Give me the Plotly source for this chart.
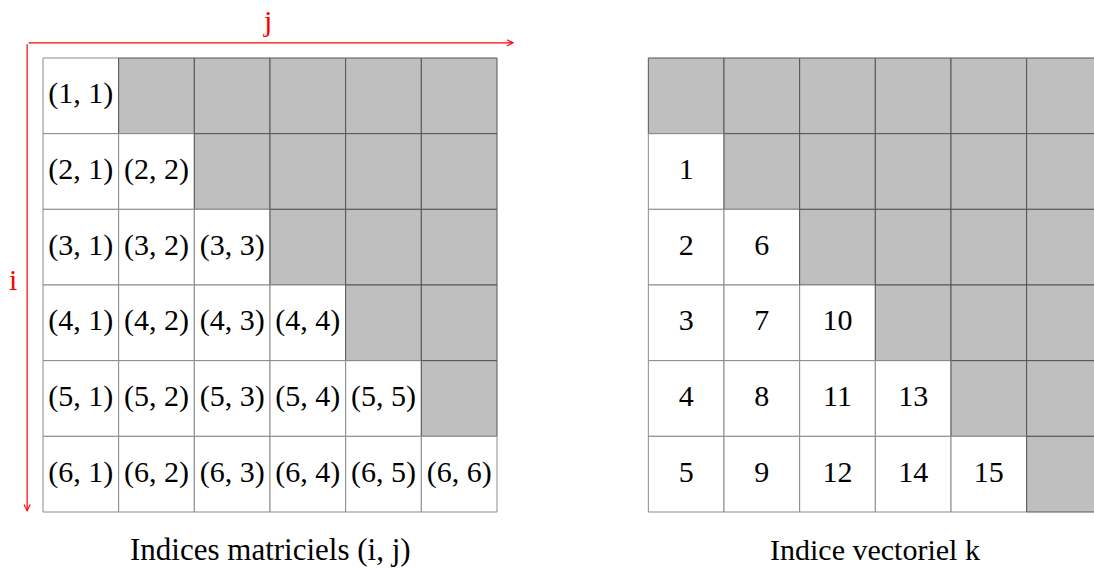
import plotly.graph_objects as go

# indices de la matrice 6x6
row_idx = [1, 2, 3, 4, 5, 6]
col_idx = [1, 2, 3, 4, 5, 6]
# indice vectoriel k (partie strictement triangulaire inferieure, par colonne)
k_values = [1, 2, 3, 4, 5, 6, 7, 8, 9, 10, 11, 12, 13, 14, 15]

captions = ["Indices matriciels (i, j)", "Indice vectoriel k"]

n = len(row_idx)
offset = 8  # decalage de la deuxieme grille (en cellules)
GRAY = "#bfbfbf"
FONT = "Liberation Serif"

fig = go.Figure()
shapes = []

# grille de gauche : (i, j), gris si j > i
lx, ly, lt = [], [], []
for i in row_idx:
    for j in col_idx:
        x0, y0 = j - 1, i - 1
        if j > i:
            shapes.append(dict(type="rect", x0=x0, x1=x0 + 1, y0=y0, y1=y0 + 1,
                               fillcolor=GRAY, line=dict(color="#555555", width=1), layer="below"))
        else:
            shapes.append(dict(type="rect", x0=x0, x1=x0 + 1, y0=y0, y1=y0 + 1,
                               fillcolor="white", line=dict(color="#8a8a8a", width=1), layer="below"))
            lx.append(x0 + 0.5)
            ly.append(y0 + 0.5)
            lt.append(f"({i}, {j})")

# grille de droite : k, gris si j >= i
rx, ry, rt = [], [], []
pos = 0
for j in col_idx:
    for i in row_idx:
        if i > j:
            rx.append(offset + j - 0.5)
            ry.append(i - 0.5)
            rt.append(str(k_values[pos]))
            pos += 1
for i in row_idx:
    for j in col_idx:
        x0, y0 = offset + j - 1, i - 1
        if j >= i:
            shapes.append(dict(type="rect", x0=x0, x1=x0 + 1, y0=y0, y1=y0 + 1,
                               fillcolor=GRAY, line=dict(color="#555555", width=1), layer="below"))
        else:
            shapes.append(dict(type="rect", x0=x0, x1=x0 + 1, y0=y0, y1=y0 + 1,
                               fillcolor="white", line=dict(color="#8a8a8a", width=1), layer="below"))

fig.add_trace(go.Scatter(x=lx, y=ly, text=lt, mode="text",
                         textfont=dict(family=FONT, size=30, color="black"),
                         hoverinfo="skip", showlegend=False))
fig.add_trace(go.Scatter(x=rx, y=ry, text=rt, mode="text",
                         textfont=dict(family=FONT, size=30, color="black"),
                         hoverinfo="skip", showlegend=False))

# fleches rouges i et j
annotations = [
    dict(x=6.23, y=-0.2, ax=-0.21, ay=-0.2, xref="x", yref="y", axref="x", ayref="y",
         text="", showarrow=True, arrowhead=5, arrowsize=1, arrowwidth=1.2, arrowcolor="red"),
    dict(x=-0.21, y=6.0, ax=-0.21, ay=-0.2, xref="x", yref="y", axref="x", ayref="y",
         text="", showarrow=True, arrowhead=5, arrowsize=1, arrowwidth=1.2, arrowcolor="red"),
    dict(x=2.97, y=-0.5, text="j", showarrow=False, xref="x", yref="y",
         font=dict(family=FONT, size=30, color="red")),
    dict(x=-0.4, y=2.93, text="i", showarrow=False, xref="x", yref="y",
         font=dict(family=FONT, size=30, color="red")),
    dict(x=3.0, y=6.5, text=captions[0], showarrow=False, xref="x", yref="y",
         font=dict(family=FONT, size=31, color="black")),
    dict(x=offset + 3.0, y=6.5, text=captions[1], showarrow=False, xref="x", yref="y",
         font=dict(family=FONT, size=30, color="black")),
]

unit = 454 / 6
px0, py0 = 43, 58
fig.update_layout(
    width=1094, height=568,
    margin=dict(l=0, r=0, t=0, b=0),
    paper_bgcolor="white", plot_bgcolor="white",
    shapes=shapes, annotations=annotations,
    xaxis=dict(range=[-px0 / unit, (1094 - px0) / unit], visible=False, fixedrange=True),
    yaxis=dict(range=[(568 - py0) / unit, -py0 / unit], visible=False, fixedrange=True),
)

# pas de marge de page ni de barres de defilement
fig.write_html("out.html", config={"displayModeBar": False},
               post_script="document.body.style.margin='0';document.body.style.overflow='hidden';")
